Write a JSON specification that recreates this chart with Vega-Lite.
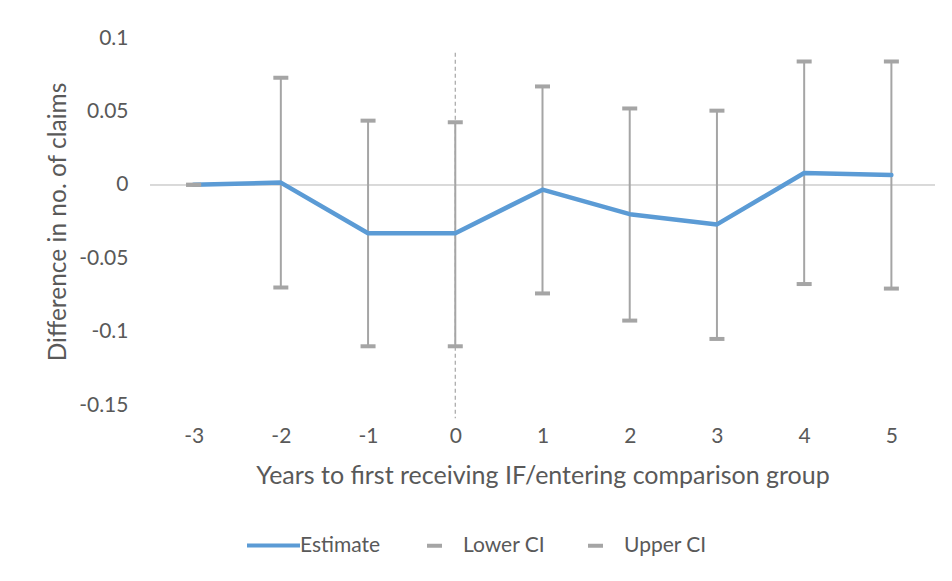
{
  "$schema": "https://vega.github.io/schema/vega-lite/v6.json",
  "autosize": {"type": "none"},
  "width": 785,
  "height": 367,
  "padding": {"left": 150, "top": 38, "right": 17, "bottom": 176},
  "background": "white",
  "config": {
    "view": {"stroke": null},
    "font": "Lato",
    "axis": {"labelColor": "#595959", "titleColor": "#595959", "labelFont": "Lato", "titleFont": "Lato", "titleFontWeight": "normal"},
    "legend": {"labelColor": "#595959", "labelFont": "Lato", "labelFontSize": 21, "padding": 0}
  },
  "data": {
    "values": [
      {"year": "-3", "estimate": 0.0, "lower": 0.0, "upper": 0.0},
      {"year": "-2", "estimate": 0.0015, "lower": -0.070, "upper": 0.073},
      {"year": "-1", "estimate": -0.033, "lower": -0.110, "upper": 0.0437},
      {"year": "0", "estimate": -0.033, "lower": -0.110, "upper": 0.0426},
      {"year": "1", "estimate": -0.0033, "lower": -0.074, "upper": 0.067},
      {"year": "2", "estimate": -0.020, "lower": -0.0925, "upper": 0.052},
      {"year": "3", "estimate": -0.027, "lower": -0.105, "upper": 0.0505},
      {"year": "4", "estimate": 0.008, "lower": -0.0676, "upper": 0.084},
      {"year": "5", "estimate": 0.0067, "lower": -0.0707, "upper": 0.084}
    ]
  },
  "encoding": {
    "x": {
      "field": "year", "type": "ordinal", "sort": null,
      "scale": {"type": "point", "padding": 0.5, "domain": ["-3", "-2", "-1", "0", "1", "2", "3", "4", "5"]},
      "axis": {"title": "Years to first receiving IF/entering comparison group", "labelAngle": 0, "domain": false, "ticks": false, "labelPadding": 20, "labelFontSize": 21, "titleFontSize": 25, "titlePadding": 17}
    }
  },
  "layer": [
    {
      "mark": {"type": "rule", "color": "#D9D9D9", "strokeWidth": 1.5},
      "encoding": {"x": null, "y": {"datum": 0, "type": "quantitative"}}
    },
    {
      "data": {"values": [{"year": "0", "top": 0.09, "bottom": -0.159}]},
      "mark": {"type": "rule", "color": "#A5A5A5", "strokeWidth": 1.2, "strokeDash": [4, 3]},
      "encoding": {
        "y": {"field": "top", "type": "quantitative"},
        "y2": {"field": "bottom"}
      }
    },
    {
      "mark": {"type": "rule", "color": "#A5A5A5", "strokeWidth": 2},
      "encoding": {
        "y": {"field": "lower", "type": "quantitative"},
        "y2": {"field": "upper"}
      }
    },
    {
      "mark": {"type": "line", "strokeWidth": 4.5, "strokeCap": "round", "strokeJoin": "round"},
      "encoding": {
        "y": {"field": "estimate", "type": "quantitative"},
        "stroke": {
          "datum": "Estimate",
          "scale": {"domain": ["Estimate"], "range": ["#5B9BD5"]},
          "legend": {
            "title": null, "orient": "none", "direction": "horizontal",
            "legendX": 95, "legendY": 479,
            "symbolType": "stroke", "symbolStrokeWidth": 4, "symbolSize": 2809,
            "labelOffset": -2
          }
        }
      }
    },
    {
      "mark": {"type": "tick", "size": 15, "thickness": 4, "opacity": 1},
      "encoding": {
        "y": {"field": "lower", "type": "quantitative"},
        "color": {"datum": "Lower CI"}
      }
    },
    {
      "mark": {"type": "tick", "size": 15, "thickness": 4, "opacity": 1},
      "encoding": {
        "y": {
          "field": "upper", "type": "quantitative",
          "scale": {"domain": [-0.15, 0.1], "nice": false, "zero": false},
          "axis": {
            "title": "Difference in no. of claims",
            "values": [-0.15, -0.1, -0.05, 0, 0.05, 0.1],
            "labelExpr": "'' + datum.value",
            "domain": false, "ticks": false, "grid": false,
            "labelPadding": 22, "labelFontSize": 21, "titleFontSize": 24.5, "titlePadding": 8
          }
        },
        "color": {
          "datum": "Upper CI",
          "scale": {"domain": ["Lower CI", "Upper CI"], "range": ["#A5A5A5", "#A5A5A5"]},
          "legend": {
            "title": null, "orient": "none", "direction": "horizontal",
            "legendX": 274, "legendY": 497,
            "symbolType": "stroke", "symbolStrokeWidth": 4, "symbolSize": 225,
            "symbolStrokeColor": "#A5A5A5",
            "labelOffset": 18, "columnPadding": 34
          }
        }
      }
    }
  ]
}
